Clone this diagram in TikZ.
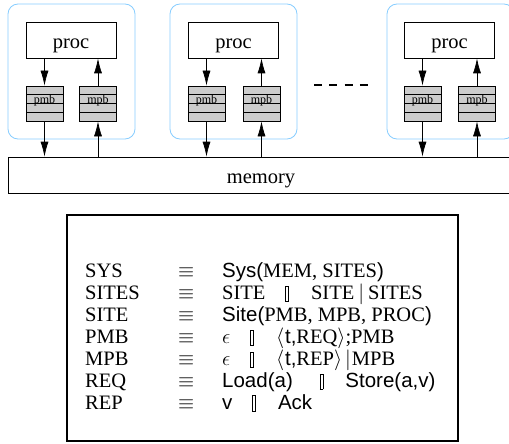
\documentclass[tikz,border=0pt]{standalone}
\usepackage{fontspec}
\setmainfont{Liberation Serif}
\setsansfont{Liberation Sans}
\usetikzlibrary{arrows.meta}

\definecolor{siteblue}{RGB}{135,205,255}

% the choice box between alternatives
\newcommand\altbar{{\setlength\fboxsep{0pt}\setlength\fboxrule{0.6pt}\raisebox{-2pt}{\fbox{\rule{0pt}{15pt}\hspace{2.4pt}}}}}

\tikzset{
    sitebox/.style={draw=siteblue, line width=0.8pt, rounded corners=10pt, minimum width=127pt, minimum height=135pt, inner sep=0pt},
    procbox/.style={draw, line width=0.7pt, minimum width=90pt, minimum height=36pt, inner sep=0pt,
        label={[font=\fontsize{20.5}{24}\selectfont, yshift=-6pt]center:proc}},
    queue/.style={draw, line width=0.7pt, fill=gray!40, minimum width=37pt, minimum height=35pt, inner sep=0pt,
        path picture={\foreach \k in {1,2,3} \draw[line width=0.7pt] ([yshift=-\k*8.75pt]path picture bounding box.north west) -- ([yshift=-\k*8.75pt]path picture bounding box.north east);},
        label={[font=\fontsize{12}{14}\selectfont, yshift=3pt]center:#1}},
    link/.style={line width=0.7pt, -{Latex[length=15pt,width=8pt]}},
}

\begin{document}
\begin{tikzpicture}[x=1pt, y=-1pt]
    \clip (0,0) rectangle (509,444);

    \node[sitebox] (site1) at (71.5,71.5) {};
    \node[procbox] (proc1) at (71,40) {};
    \node[queue=pmb] (pmb1) at (44.5,103.5) {};
    \node[queue=mpb] (mpb1) at (98,103.5) {};

    \node[sitebox] (site2) at (233.5,71.5) {};
    \node[procbox] (proc2) at (233.5,40) {};
    \node[queue=pmb] (pmb2) at (206.5,103.5) {};
    \node[queue=mpb] (mpb2) at (261.5,103.5) {};

    \node[sitebox] (site3) at (450.5,71.5) {};
    \node[procbox] (proc3) at (449.5,40) {};
    \node[queue=pmb] (pmb3) at (422.5,103.5) {};
    \node[queue=mpb] (mpb3) at (477,103.5) {};

    \node[draw, line width=0.7pt, minimum width=506pt, minimum height=36pt, inner sep=0pt,
        label={[font=\fontsize{20.5}{24}\selectfont, yshift=-6pt]center:memory}] (mem) at (261,175) {};

    \draw[line width=1.3pt, dash pattern=on 8pt off 7.3pt] (314,85) -- (369,85);

    \draw[link] (proc1.south -| pmb1.north) -- (pmb1.north);
    \draw[link] (mpb1.north) -- (proc1.south -| mpb1.north);
    \draw[link] (pmb1.south) -- (mem.north -| pmb1.south);
    \draw[link] (mem.north -| mpb1.south) -- (mpb1.south);

    \draw[link] (proc2.south -| pmb2.north) -- (pmb2.north);
    \draw[link] (mpb2.north) -- (proc2.south -| mpb2.north);
    \draw[link] (pmb2.south) -- (mem.north -| pmb2.south);
    \draw[link] (mem.north -| mpb2.south) -- (mpb2.south);

    \draw[link] (proc3.south -| pmb3.north) -- (pmb3.north);
    \draw[link] (mpb3.north) -- (proc3.south -| mpb3.north);
    \draw[link] (pmb3.south) -- (mem.north -| pmb3.south);
    \draw[link] (mem.north -| mpb3.south) -- (mpb3.south);

    \node[draw, line width=2pt, minimum width=391pt, minimum height=226pt, inner sep=0pt] (defbox) at (262.5,328) {};
    \node[anchor=base west, inner sep=0pt, font=\fontsize{20.5}{21.9}\selectfont] (defs) at (85,277) {%
        \begin{tabular}[t]{@{}p{93pt}@{}p{44pt}@{}l@{}}
        SYS & $\equiv$ & \textsf{Sys(}MEM, SITES\textsf{)}\\
        SITES & $\equiv$ & SITE\hspace{20pt}\altbar\hspace{22pt}SITE\hspace{4pt}$|$\hspace{4pt}SITES\\
        SITE & $\equiv$ & \textsf{Site(}PMB, MPB, PROC\textsf{)}\\
        PMB & $\equiv$ & $\epsilon$\hspace{20pt}\altbar\hspace{22pt}$\langle$\hspace{1pt}\textsf{t,}REQ$\rangle$;PMB\\
        MPB & $\equiv$ & $\epsilon$\hspace{20pt}\altbar\hspace{22pt}$\langle$\hspace{1pt}\textsf{t,}REP$\rangle$\hspace{3pt}$|$\hspace{1pt}MPB\\
        REQ & $\equiv$ & \textsf{Load(a)}\hspace{27pt}\altbar\hspace{22pt}\textsf{Store(a,v)}\\
        REP & $\equiv$ & \textsf{v}\hspace{20pt}\altbar\hspace{22pt}\textsf{Ack}
        \end{tabular}};
\end{tikzpicture}
\end{document}
